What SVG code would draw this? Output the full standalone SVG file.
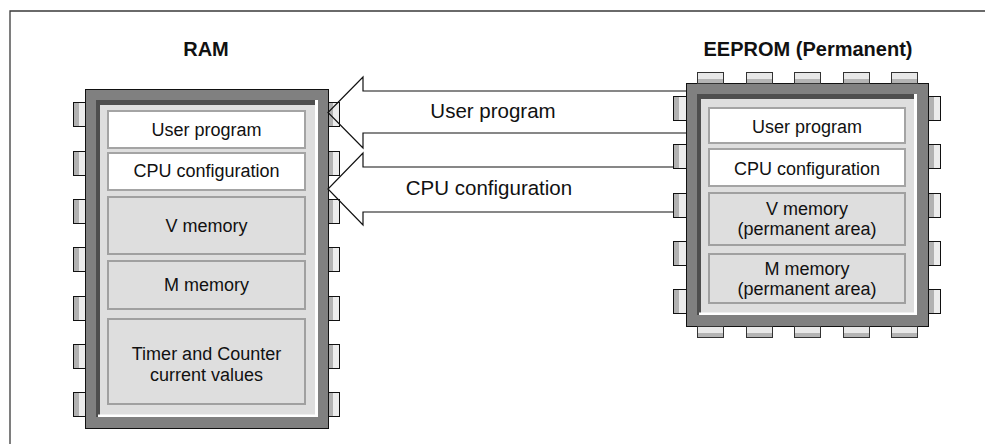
<svg xmlns="http://www.w3.org/2000/svg" width="986" height="444" viewBox="0 0 986 444">
<defs>
<linearGradient id="gh" x1="0" y1="0" x2="1" y2="0">
<stop offset="0" stop-color="#b2b2b2"/><stop offset="0.45" stop-color="#b2b2b2"/>
<stop offset="0.45" stop-color="#ececec"/><stop offset="1" stop-color="#ececec"/>
</linearGradient>
<linearGradient id="gv" x1="0" y1="0" x2="0" y2="1">
<stop offset="0" stop-color="#e8e8e8"/><stop offset="0.55" stop-color="#e8e8e8"/>
<stop offset="0.55" stop-color="#b4b4b4"/><stop offset="1" stop-color="#b4b4b4"/>
</linearGradient>
</defs>
<style>
.frame{stroke:#3a3a3a;stroke-width:1.3;fill:none}
.body{fill:#808080;stroke:#111;stroke-width:1}
.panel{fill:#dedede}
.dark{fill:#4e4e4e}
.hi{fill:#ffffff}
.pinh{fill:url(#gh);stroke:#111;stroke-width:1}
.pinv{fill:url(#gv);stroke:#333;stroke-width:1}
.bw{fill:#ffffff;stroke:#a4a4a4;stroke-width:2}
.bg{fill:#dedede;stroke:#a0a0a0;stroke-width:2}
.t{font-family:"Liberation Sans",Arial,sans-serif;font-size:18px;fill:#111;text-anchor:middle}
.title{font-family:"Liberation Sans",Arial,sans-serif;font-size:20px;font-weight:bold;fill:#111;text-anchor:middle}
.al{font-family:"Liberation Sans",Arial,sans-serif;font-size:20.5px;fill:#111;text-anchor:middle}
.arrow{fill:none;stroke:#111;stroke-width:1.2}
</style>
<rect width="986" height="444" fill="#fff"/>
<path class="frame" d="M10,444 L10,11 L985,11"/>

<text class="title" x="206" y="56">RAM</text>
<text class="title" x="808" y="56">EEPROM (Permanent)</text>

<g id="ram">
<rect class="body" x="85.5" y="89.5" width="243" height="339"/>
<rect class="panel" x="96" y="100" width="222" height="317"/>
<rect class="dark" x="96" y="100" width="222" height="5"/>
<rect class="dark" x="96" y="100" width="4" height="317"/>
<rect class="hi" x="315" y="100" width="3" height="317"/>
<rect class="hi" x="98" y="414.5" width="220" height="2.5"/>
<g id="ram-pins">
<rect class="pinh" x="73.5" y="102.5" width="12" height="24"/>
<rect class="pinh" x="73.5" y="151.5" width="12" height="24"/>
<rect class="pinh" x="73.5" y="199.5" width="12" height="24"/>
<rect class="pinh" x="73.5" y="247.5" width="12" height="24"/>
<rect class="pinh" x="73.5" y="296.5" width="12" height="24"/>
<rect class="pinh" x="73.5" y="344.5" width="12" height="24"/>
<rect class="pinh" x="73.5" y="392.5" width="12" height="24"/>
<rect class="pinh" x="328.5" y="102.5" width="11" height="24"/>
<rect class="pinh" x="328.5" y="151.5" width="11" height="24"/>
<rect class="pinh" x="328.5" y="199.5" width="11" height="24"/>
<rect class="pinh" x="328.5" y="247.5" width="11" height="24"/>
<rect class="pinh" x="328.5" y="296.5" width="11" height="24"/>
<rect class="pinh" x="328.5" y="344.5" width="11" height="24"/>
<rect class="pinh" x="328.5" y="392.5" width="11" height="24"/>
</g>
</g>
<g id="ram-user-program"><rect class="bw" x="108" y="111" width="197" height="37"/><text class="t" x="206.5" y="136">User program</text></g>
<g id="ram-cpu-configuration"><rect class="bw" x="108" y="153" width="197" height="37"/><text class="t" x="206.5" y="177">CPU configuration</text></g>
<g id="ram-v-memory"><rect class="bg" x="108" y="197" width="197" height="57"/><text class="t" x="206.5" y="232">V memory</text></g>
<g id="ram-m-memory"><rect class="bg" x="108" y="261" width="197" height="48"/><text class="t" x="206.5" y="291">M memory</text></g>
<g id="ram-timer-counter"><rect class="bg" x="108" y="319" width="197" height="85"/><text class="t" x="206.5" y="360">Timer and Counter</text><text class="t" x="206.5" y="381">current values</text></g>

<g id="eeprom">
<rect class="body" x="686.5" y="83.5" width="242" height="243"/>
<rect class="panel" x="697" y="94" width="220" height="221"/>
<rect class="dark" x="697" y="94" width="220" height="5"/>
<rect class="dark" x="697" y="94" width="4" height="221"/>
<rect class="hi" x="914" y="94" width="3" height="221"/>
<rect class="hi" x="699" y="312.5" width="218" height="2.5"/>
<g id="eeprom-pins">
<rect class="pinh" x="673.5" y="96.5" width="13" height="24"/>
<rect class="pinh" x="673.5" y="144.5" width="13" height="24"/>
<rect class="pinh" x="673.5" y="193.5" width="13" height="24"/>
<rect class="pinh" x="673.5" y="241.5" width="13" height="24"/>
<rect class="pinh" x="673.5" y="289.5" width="13" height="24"/>
<rect class="pinh" x="928.5" y="96.5" width="12" height="24"/>
<rect class="pinh" x="928.5" y="144.5" width="12" height="24"/>
<rect class="pinh" x="928.5" y="193.5" width="12" height="24"/>
<rect class="pinh" x="928.5" y="241.5" width="12" height="24"/>
<rect class="pinh" x="928.5" y="289.5" width="12" height="24"/>
<rect class="pinv" x="697.5" y="72.5" width="26" height="11"/>
<rect class="pinv" x="746.5" y="72.5" width="26" height="11"/>
<rect class="pinv" x="794.5" y="72.5" width="26" height="11"/>
<rect class="pinv" x="843.5" y="72.5" width="26" height="11"/>
<rect class="pinv" x="891.5" y="72.5" width="26" height="11"/>
<rect class="pinv" x="697.5" y="326.5" width="26" height="11"/>
<rect class="pinv" x="746.5" y="326.5" width="26" height="11"/>
<rect class="pinv" x="794.5" y="326.5" width="26" height="11"/>
<rect class="pinv" x="843.5" y="326.5" width="26" height="11"/>
<rect class="pinv" x="891.5" y="326.5" width="26" height="11"/>
</g>
</g>
<g id="eeprom-user-program"><rect class="bw" x="709" y="108" width="196" height="35"/><text class="t" x="807" y="133">User program</text></g>
<g id="eeprom-cpu-configuration"><rect class="bw" x="709" y="149" width="196" height="37"/><text class="t" x="807" y="175">CPU configuration</text></g>
<g id="eeprom-v-memory"><rect class="bg" x="709" y="193" width="196" height="52"/><text class="t" x="807" y="215">V memory</text><text class="t" x="807" y="235">(permanent area)</text></g>
<g id="eeprom-m-memory"><rect class="bg" x="709" y="254" width="196" height="49"/><text class="t" x="807" y="275">M memory</text><text class="t" x="807" y="295">(permanent area)</text></g>

<g id="connectors">
<path class="arrow" d="M686,91 L363,91 L363,77 L328,112.5 L363,148 L363,133 L686,133"/>
<path class="arrow" d="M673,167 L363,167 L363,153 L328,189 L363,225 L363,212 L673,212"/>
<text class="al" x="493" y="118">User program</text>
<text class="al" x="489" y="195">CPU configuration</text>
</g>
</svg>
